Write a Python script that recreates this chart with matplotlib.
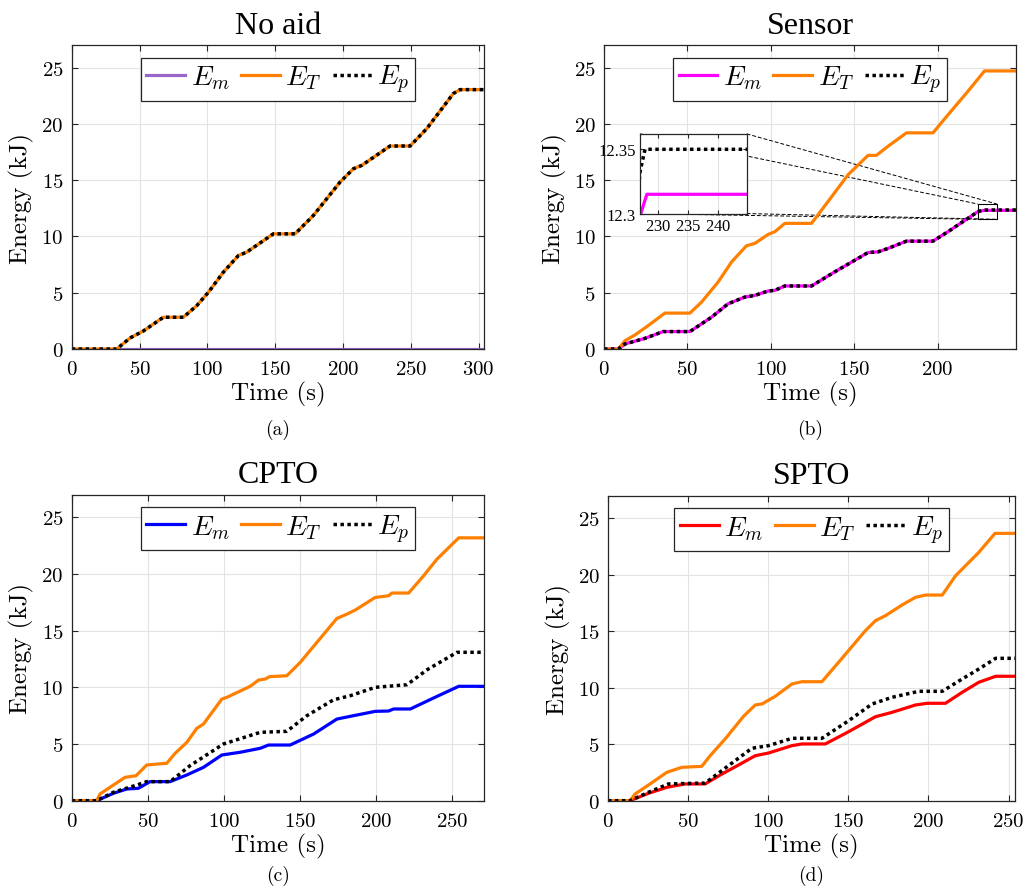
import matplotlib

matplotlib.use("Agg")
import matplotlib.pyplot as plt

plt.rcParams["font.family"] = ["cmr10", "DejaVu Serif"]
plt.rcParams["mathtext.fontset"] = "cm"
plt.rcParams["axes.formatter.use_mathtext"] = True

ORANGE = "#ff8000"
TITLE_FONT = "Liberation Serif"

# ---- data: breakpoints (time s, energy kJ) ----
# (a) No aid
t_a = [0, 33.2, 43, 52.8, 67.6, 82.3, 92.2, 100.8, 111.8, 122.9, 129, 148.7, 164.7,
       178.2, 197.9, 207.7, 213.9, 234.7, 249.5, 261.8, 281.4, 286.4, 304]
et_a = [0, 0, 0.98, 1.6, 2.82, 2.82, 3.85, 5.04, 6.82, 8.3, 8.6, 10.23, 10.23,
        11.86, 14.83, 16.01, 16.31, 18.03, 18.03, 19.57, 22.69, 23.04, 23.04]
em_a_t = [0, 304]
em_a = [0, 0]

# (b) Sensor
t_b_T = [0, 8.6, 12.6, 18.6, 26.5, 36.5, 51.5, 58.5, 68.4, 76.5, 85.4, 90.4, 98.4,
         102.4, 108.4, 124.4, 134.3, 146.3, 158.3, 163.3, 170.2, 181.3, 197.2, 206.2,
         218.2, 228.1, 247]
et_b = [0, 0, 0.74, 1.25, 2.08, 3.19, 3.19, 4.17, 5.95, 7.74, 9.17, 9.38, 10.18,
        10.42, 11.16, 11.16, 13.1, 15.48, 17.2, 17.2, 18.0, 19.2, 19.2, 20.8,
        22.9, 24.7, 24.7]
t_b_m = [0, 8.6, 12.6, 24.6, 35.5, 51.5, 64.5, 74.4, 84.4, 90.4, 98.4, 102.4, 108.4,
         124.4, 138.3, 158.3, 164.3, 170.2, 181.3, 197.2, 206.2, 224.1, 227.1, 228.1, 247]
em_b = [0, 0, 0.45, 0.95, 1.55, 1.55, 2.83, 4.02, 4.61, 4.76, 5.15, 5.21, 5.6,
        5.6, 6.85, 8.57, 8.63, 8.93, 9.58, 9.58, 10.42, 12.2, 12.3, 12.315, 12.315]
t_b_p = [0, 8.6, 12.6, 24.6, 35.5, 51.5, 64.5, 74.4, 84.4, 90.4, 98.4, 102.4, 108.4,
         124.4, 138.3, 158.3, 164.3, 170.2, 181.3, 197.2, 206.2, 224.1, 227.0, 227.8, 247]
ep_b = [0, 0, 0.45, 0.95, 1.55, 1.55, 2.83, 4.02, 4.61, 4.76, 5.15, 5.21, 5.6,
        5.6, 6.85, 8.57, 8.63, 8.93, 9.58, 9.58, 10.42, 12.2, 12.333, 12.35, 12.35]

# (c) CPTO
t_c_T = [0, 16.4, 18.6, 27.4, 35.1, 42.3, 49.3, 62.5, 68, 75.7, 82.2, 86.6, 98.7, 102,
         117.3, 122.8, 127.2, 130, 141.4, 150.2, 161.2, 174.3, 180.9, 186.4, 199.5,
         208.3, 210.5, 221.5, 231.3, 240.1, 254.4, 271]
et_c = [0, 0, 0.59, 1.38, 2.06, 2.2, 3.15, 3.3, 4.18, 5.15, 6.38, 6.76, 8.97, 9.12,
        10.09, 10.64, 10.73, 10.94, 11.02, 12.2, 13.97, 16.08, 16.46, 16.82, 17.93,
        18.08, 18.32, 18.32, 19.84, 21.31, 23.19, 23.19]
t_c_p = [0, 16.4, 27.4, 42.8, 49.3, 64.7, 77.8, 99.7, 123.9, 141.4, 154.6, 172.1,
         183.1, 199.5, 220.4, 233.6, 253.3, 271]
ep_c = [0, 0, 0.74, 1.38, 1.68, 1.68, 3.09, 5.0, 6.03, 6.12, 7.5, 8.9, 9.26, 10.0,
        10.23, 11.55, 13.09, 13.09]
t_c_m = [0, 16.4, 27.4, 36.2, 43.8, 51.5, 64.7, 75.7, 86.6, 98.7, 110.7, 123.9, 129.4,
         143.6, 159, 174.3, 185.3, 199.5, 208.3, 211.6, 222.6, 240.1, 254.4, 271]
em_c = [0, 0, 0.65, 1.03, 1.09, 1.68, 1.68, 2.27, 2.94, 4.03, 4.27, 4.62, 4.91, 4.91,
        5.88, 7.2, 7.5, 7.88, 7.91, 8.09, 8.09, 9.2, 10.09, 10.09]

# (d) SPTO
t_d_T = [0, 13.75, 16.9, 26.25, 36.7, 46.1, 58.5, 63.75, 73.1, 84.6, 91.9, 96.1, 104.4,
         114.8, 121, 133.5, 143.9, 160.6, 166.9, 173.1, 183.5, 191.9, 198.1, 208.6,
         216.9, 231.4, 241.5, 254]
et_d = [0, 0, 0.59, 1.48, 2.51, 2.95, 3.04, 3.98, 5.46, 7.47, 8.47, 8.56, 9.24, 10.33,
        10.53, 10.53, 12.25, 15.04, 15.93, 16.37, 17.32, 18.0, 18.2, 18.2, 19.91,
        21.98, 23.66, 23.66]
t_d_p = [0, 13.75, 25.2, 37.7, 60.6, 75.2, 89.8, 100.2, 114.8, 133.5, 150.2, 164.8,
         177.3, 193.9, 208.6, 221, 231.4, 241.9, 254]
ep_d = [0, 0, 0.74, 1.48, 1.56, 3.1, 4.64, 4.87, 5.52, 5.52, 7.08, 8.56, 9.15, 9.68,
        9.68, 10.77, 11.65, 12.6, 12.6]
t_d_m = [0, 13.75, 25.2, 36.7, 48.1, 60.6, 71.1, 81.5, 91.9, 100.2, 114.8, 121, 135.6,
         150.2, 166.9, 177.3, 191.9, 199.2, 210.6, 221, 231.4, 241.9, 254]
em_d = [0, 0, 0.65, 1.18, 1.48, 1.48, 2.36, 3.16, 3.98, 4.22, 4.87, 5.02, 5.02, 6.11,
        7.43, 7.82, 8.47, 8.62, 8.62, 9.59, 10.48, 11.01, 11.01]

panels = [
    # title, caption, axes rect, xmax, (t_m, E_m), (t_T, E_T), (t_p, E_p), E_m colour
    ("No aid", "(a)", [0.0699, 0.6054, 0.4018, 0.3427], 304,
     (em_a_t, em_a), (t_a, et_a), (t_a, et_a), "#9966cc"),
    ("Sensor", "(b)", [0.5887, 0.6054, 0.4016, 0.3427], 247,
     (t_b_m, em_b), (t_b_T, et_b), (t_b_p, ep_b), "#ff00ff"),
    ("CPTO", "(c)", [0.0699, 0.0962, 0.4018, 0.3450], 271,
     (t_c_m, em_c), (t_c_T, et_c), (t_c_p, ep_c), "#0000ff"),
    ("SPTO", "(d)", [0.5926, 0.0962, 0.3967, 0.3439], 254,
     (t_d_m, em_d), (t_d_T, et_d), (t_d_p, ep_d), "#ff0000"),
]
caption_y = [0.515, 0.515, 0.013, 0.013]


def style_axes(ax):
    ax.grid(True, color="#e3e3e3", lw=0.8)
    ax.set_axisbelow(True)
    ax.tick_params(direction="in", top=True, right=True, length=4, width=0.8,
                   color="#262626")
    for s in ax.spines.values():
        s.set_color("#262626")
        s.set_linewidth(0.9)


fig = plt.figure(figsize=(10.26, 8.87), dpi=100)
for i, (title, cap, rect, xmax, m, T, p, cm) in enumerate(panels):
    ax = fig.add_axes(rect)
    ax.plot(*m, color=cm, lw=2.3, label=r"$E_m$")
    ax.plot(*T, color=ORANGE, lw=2.3, label=r"$E_T$")
    ax.plot(*p, color="black", lw=2.5, ls=(0, (1, 1)), label=r"$E_p$")
    ax.set_xlim(0, xmax)
    ax.set_ylim(0, 27)
    ax.set_xticks(range(0, xmax + 1, 50))
    ax.set_yticks(range(0, 26, 5))
    style_axes(ax)
    ax.tick_params(axis="x", labelsize=15, pad=8)
    ax.tick_params(axis="y", labelsize=15, pad=6)
    ax.set_xlabel("Time (s)", fontsize=18, labelpad=2)
    ax.set_ylabel("Energy (kJ)", fontsize=18, labelpad=5)
    ax.set_title(title, fontsize=23, family=TITLE_FONT, pad=9)
    leg = ax.legend(loc="upper center", ncol=3, fontsize=20, frameon=True,
                    fancybox=False, edgecolor="#262626", framealpha=1,
                    handlelength=1.4, handletextpad=0.2, columnspacing=0.4,
                    borderpad=0.2, borderaxespad=0.45)
    leg.get_frame().set_linewidth(0.9)
    fig.text(rect[0] + rect[2] / 2, caption_y[i], cap, ha="center", va="center",
             fontsize=14)

    if title == "Sensor":
        # zoom box + inset
        x0, x1, y0, y1 = 224.1, 235.5, 11.52, 12.88
        ax.plot([x0, x1, x1, x0, x0], [y0, y0, y1, y1, y0], color="black", lw=0.8,
                zorder=4)
        ix0, iy0, iw, ih = 21.7, 12.03, 63.8, 7.08
        for (ax_, ay_), (bx_, by_) in [((ix0, iy0), (x0, y0)), ((ix0 + iw, iy0), (x1, y0)),
                                       ((ix0, iy0 + ih), (x0, y1)),
                                       ((ix0 + iw, iy0 + ih), (x1, y1))]:
            ax.plot([ax_, bx_], [ay_, by_], color="black", lw=0.7, ls=(0, (4, 2)),
                    zorder=1.5)
        ins = ax.inset_axes([ix0, iy0, iw, ih], transform=ax.transData)
        ins.plot(*m, color=cm, lw=2.3)
        ins.plot(*p, color="black", lw=2.5, ls=(0, (1, 1)))
        ins.set_xlim(227, 244.7)
        ins.set_ylim(12.3, 12.362)
        ins.set_xticks([230, 235, 240])
        ins.set_yticks([12.3, 12.35])
        ins.set_yticklabels(["12.3", "12.35"])
        style_axes(ins)
        ins.tick_params(labelsize=12, pad=3, length=3)
        for lab in ins.get_xticklabels() + ins.get_yticklabels():
            lab.set_family(TITLE_FONT)

fig.savefig("out.png", dpi=100)
